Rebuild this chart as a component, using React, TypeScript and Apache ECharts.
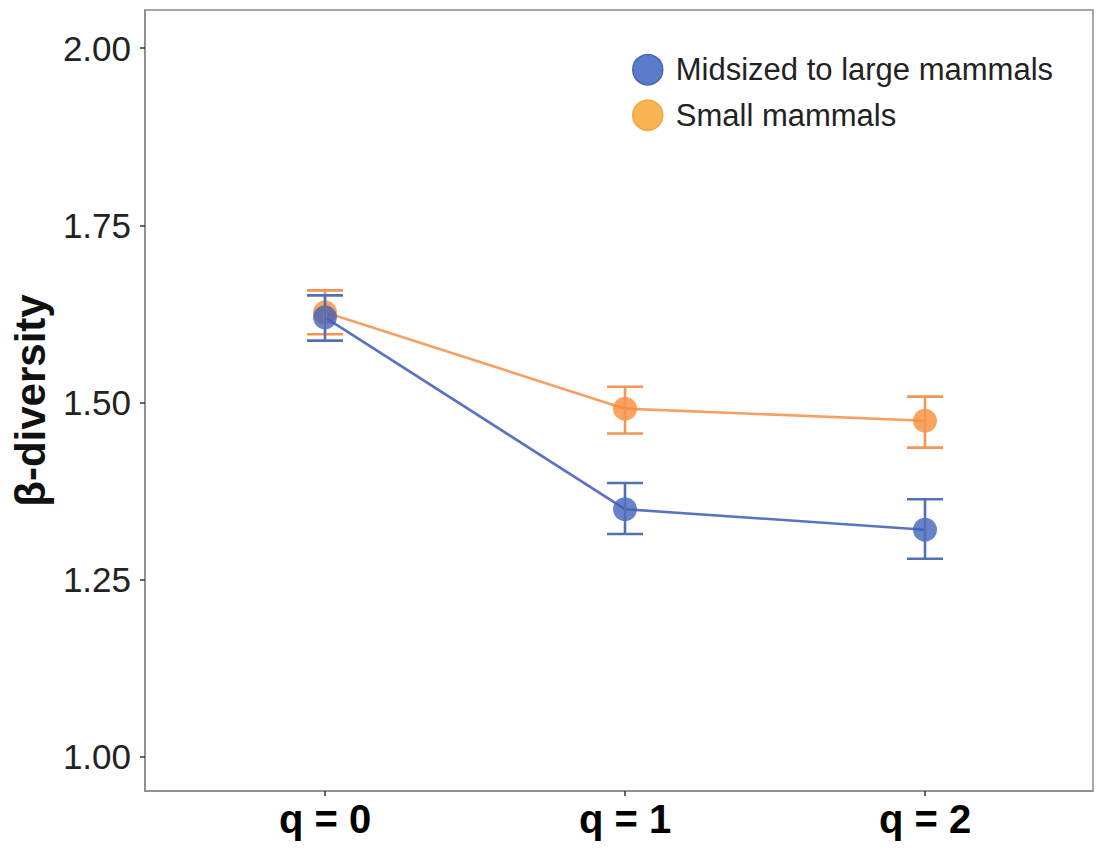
import React, { useEffect, useRef } from "react";
import * as echarts from "echarts";

const categories = ["q = 0", "q = 1", "q = 2"];
const yTicks = [1.0, 1.25, 1.5, 1.75, 2.0];

const largeName = "Midsized to large mammals";
const largeMean = [1.62, 1.349, 1.32];
const largeLow = [1.587, 1.314, 1.279];
const largeHigh = [1.651, 1.386, 1.363];

const smallName = "Small mammals";
const smallMean = [1.627, 1.491, 1.474];
const smallLow = [1.596, 1.456, 1.436];
const smallHigh = [1.658, 1.522, 1.508];

const FONT = "'Liberation Sans', Arial, sans-serif";

const BLUE_LINE = "#5873c2";
const BLUE_PT = "rgba(62, 96, 186, 0.78)";
const BLUE_ERR = "#5470b4";
const ORANGE_LINE = "#f7a064";
const ORANGE_PT = "rgba(248, 138, 52, 0.78)";
const ORANGE_ERR = "#f49455";

function errSeries(name: string, low: number[], high: number[], color: string) {
  return {
    type: "custom",
    name,
    data: categories.map((_, i) => [i, low[i], high[i]]),
    encode: { x: 0, y: [1, 2] },
    z: 4,
    renderItem: (params: any, api: any) => {
      const x = api.value(0);
      const lo = api.coord([x, api.value(1)]);
      const hi = api.coord([x, api.value(2)]);
      const hw = 18;
      const style = { stroke: color, lineWidth: 2.6 };
      return {
        type: "group",
        children: [
          { type: "line", shape: { x1: lo[0], y1: lo[1], x2: hi[0], y2: hi[1] }, style },
          { type: "line", shape: { x1: lo[0] - hw, y1: lo[1], x2: lo[0] + hw, y2: lo[1] }, style },
          { type: "line", shape: { x1: hi[0] - hw, y1: hi[1], x2: hi[0] + hw, y2: hi[1] }, style },
        ],
      };
    },
  };
}

function lineSeries(name: string, mean: number[], lineColor: string, ptColor: string, z: number) {
  return {
    type: "line",
    name,
    data: categories.map((_, i) => [i, mean[i]]),
    symbol: "circle",
    symbolSize: 24,
    z,
    lineStyle: { color: lineColor, width: 2.6 },
    itemStyle: { color: ptColor, borderWidth: 0 },
  };
}

export default function App() {
  const ref = useRef<HTMLDivElement>(null);
  useEffect(() => {
    if (!ref.current) return;
    const chart = echarts.init(ref.current, undefined, { renderer: "svg" });
    chart.setOption({
      animation: false,
      backgroundColor: "#ffffff",
      grid: {
        left: 145,
        right: 7,
        top: 10,
        bottom: 61,
        show: true,
        borderColor: "#8a8a8a",
        borderWidth: 1.5,
        backgroundColor: "transparent",
      },
      legend: {
        left: 627,
        top: 49,
        orient: "vertical",
        itemWidth: 30,
        itemHeight: 30,
        itemGap: 14,
        textStyle: { fontFamily: FONT, fontSize: 31, color: "#222", padding: [0, 0, 0, 8] },
        data: [
          { name: largeName, icon: "circle", itemStyle: { color: "#5b7bcb", borderColor: "#4a66b3", borderWidth: 1.5 } },
          { name: smallName, icon: "circle", itemStyle: { color: "#f8b551", borderColor: "#f4a83c", borderWidth: 1.5 } },
        ],
      },
      xAxis: {
        type: "value",
        min: -0.6,
        max: 2.56,
        splitLine: { show: false },
        axisLine: { show: true, onZero: false, lineStyle: { color: "#8a8a8a", width: 1.5 } },
        axisTick: { show: true, customValues: [0, 1, 2], length: 5, lineStyle: { color: "#333", width: 1.5 } },
        axisLabel: {
          customValues: [0, 1, 2],
          formatter: (v: number) => categories[Math.round(v)] ?? "",
          fontFamily: FONT,
          fontSize: 40,
          fontWeight: "bold",
          color: "#000",
          margin: 8,
        },
      },
      yAxis: {
        type: "value",
        min: 0.951,
        max: 2.054,
        splitLine: { show: false },
        axisLine: { show: true, onZero: false, lineStyle: { color: "#8a8a8a", width: 1.5 } },
        axisTick: { show: true, customValues: yTicks, length: 5, lineStyle: { color: "#333", width: 1.5 } },
        axisLabel: {
          customValues: yTicks,
          formatter: (v: number) => v.toFixed(2),
          fontFamily: FONT,
          fontSize: 35,
          color: "#222",
          margin: 14,
        },
        name: "β-diversity",
        nameLocation: "middle",
        nameGap: 88,
        nameTextStyle: { fontFamily: FONT, fontSize: 42, fontWeight: "bold", color: "#111" },
      },
      series: [
        lineSeries(smallName, smallMean, ORANGE_LINE, ORANGE_PT, 2),
        lineSeries(largeName, largeMean, BLUE_LINE, BLUE_PT, 3),
        errSeries(smallName, smallLow, smallHigh, ORANGE_ERR),
        errSeries(largeName, largeLow, largeHigh, BLUE_ERR),
      ],
    });
    return () => chart.dispose();
  }, []);
  return (
    <div
      ref={ref}
      style={{ position: "fixed", left: 0, top: 0, width: 1100, height: 852, background: "#fff" }}
    />
  );
}
